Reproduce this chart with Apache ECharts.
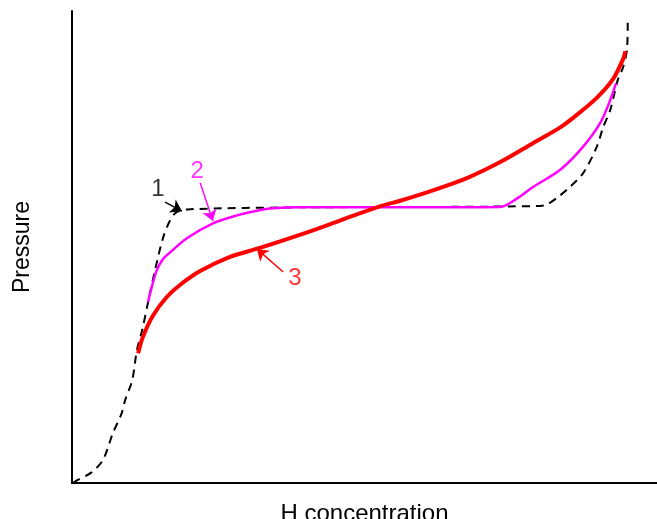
<!DOCTYPE html>
<html>
<head>
<meta charset="utf-8">
<script src="https://cdn.jsdelivr.net/npm/echarts@6/dist/echarts.min.js"></script>
<style>html,body{margin:0;padding:0;background:#fff}#c{width:657px;height:519px}</style>
</head>
<body>
<div id="c"></div>
<script>
// Curve 1 (dashed black): [H concentration, Pressure]
const curve1 = [
  [0.2,0],[0.9,0.6],[3.4,2.3],[5.3,4.9],[7.0,10.6],[8.5,14.8],[9.1,17.6],[10.3,21.8],
  [11.1,28.2],[12.0,32.4],[13.0,38.3],[14.2,45.1],[15.6,52.1],[16.8,55.7],[17.9,57.4],
  [20.2,58.0],[39.0,58.4],[64.6,58.5],[80.0,58.7],[81.2,59.0],[83.1,60.6],[85.1,62.7],
  [87.4,65.7],[89.7,71.2],[90.8,75.4],[92.0,79.0],[93.3,85.4],[94.2,88.1],[94.9,92.2],[95.0,98.5]
];
// Curve 2 (magenta)
const curve2 = [
  [13.0,38.3],[13.5,40.9],[14.5,45.1],[15.6,47.5],[16.8,48.9],[19.7,51.9],[24.1,55.0],
  [28.2,56.7],[31.6,57.7],[34.4,58.2],[39.0,58.4],[56.1,58.4],[73.2,58.5],[76.1,60.3],
  [78.8,62.7],[83.4,66.3],[87.2,71.0],[90.3,76.3],[92.0,81.1],[93.0,84.7]
];
// Curve 3 (red)
const curve3 = [
  [11.3,27.5],[12.1,30.9],[13.8,35.4],[16.2,39.4],[18.5,42.0],[21.9,44.9],[27.0,47.9],
  [32.1,49.8],[40.2,53.1],[45.8,55.6],[52.6,58.6],[56.1,59.8],[61.7,62.0],[67.5,64.6],
  [73.2,68.0],[78.8,72.0],[83.4,75.3],[85.6,77.3],[89.7,81.6],[92.5,85.6],[94.2,89.8],[94.6,91.5]
];
// Annotation labels [x, y, text] and arrows [from, to]
const labels1 = [[14.7,62.3,'1']];
const labels2 = [[21.4,66.1,'2']];
const labels3 = [[38.1,43.4,'3']];
const arrow1 = [[15.9,59.5],[18.8,57.6]];
const arrow2 = [[21.9,63.6],[24.1,55.5]];
const arrow3 = [[36.1,44.7],[31.6,49.6]];

const FONT = 'Liberation Sans, Arial, sans-serif';
const chart = echarts.init(document.getElementById('c'), null, {renderer:'canvas'});

function labelSeries(data, color){
  return {
    type:'scatter', data:data, symbolSize:1, itemStyle:{color:'rgba(0,0,0,0)'}, silent:true,
    label:{show:true, position:'inside', formatter:p=>p.value[2], color:color, fontSize:24, fontFamily:FONT},
    z:5
  };
}
function arrowML(arr, color){
  return {
    silent:true, symbol:['none','arrow'], symbolSize:11,
    lineStyle:{color:color, width:1.4, type:'solid'}, label:{show:false},
    data:[[{coord:arr[0]},{coord:arr[1]}]]
  };
}

chart.setOption({
  animation:false,
  grid:{left:72, top:11, right:0, bottom:36, outerBoundsMode:'none', containLabel:false},
  xAxis:{type:'value', min:0, max:100, name:'H concentration', nameLocation:'middle', nameGap:19,
    nameTextStyle:{fontSize:24, color:'#000', fontFamily:FONT},
    axisLine:{show:true, lineStyle:{color:'#000', width:2}}, axisTick:{show:false}, axisLabel:{show:false}, splitLine:{show:false}},
  yAxis:{type:'value', min:0, max:100, name:'Pressure', nameLocation:'middle', nameGap:38,
    nameTextStyle:{fontSize:23, color:'#000', fontFamily:FONT},
    axisLine:{show:true, lineStyle:{color:'#000', width:2}}, axisTick:{show:false}, axisLabel:{show:false}, splitLine:{show:false}},
  series:[
    {type:'line', data:curve1, smooth:0.3, showSymbol:false, lineStyle:{color:'#000', width:2, type:[8,6]}, z:2,
      markLine:arrowML(arrow1,'#000')},
    {type:'line', data:curve2, smooth:0.3, showSymbol:false, lineStyle:{color:'#ff00ff', width:2.5}, z:3,
      markLine:arrowML(arrow2,'#ff00ff')},
    {type:'line', data:curve3, smooth:0.3, showSymbol:false, lineStyle:{color:'#ff0000', width:4}, z:4,
      markLine:arrowML(arrow3,'#ff0000')},
    labelSeries(labels1,'#000'),
    labelSeries(labels2,'#ff00ff'),
    labelSeries(labels3,'#ff0000')
  ]
});
</script>
</body>
</html>
